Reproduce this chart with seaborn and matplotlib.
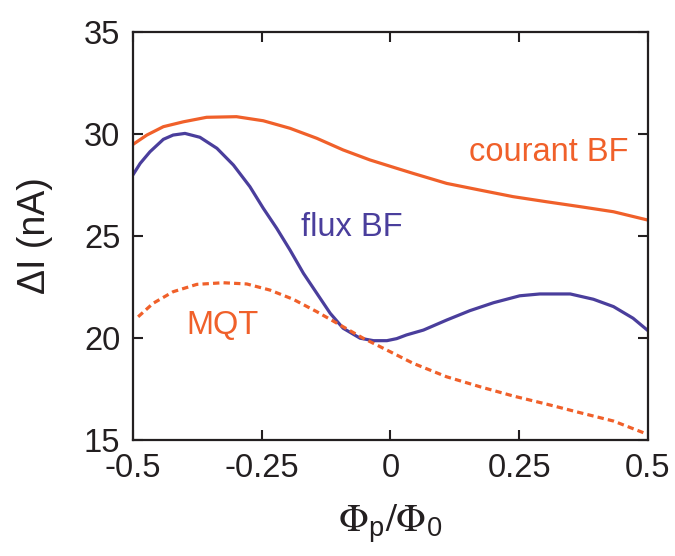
import numpy as np
import pandas as pd
import matplotlib
matplotlib.use('Agg')
import matplotlib.pyplot as plt
import seaborn as sns

# courant BF (orange, trait plein)
x_courant = [-0.5, -0.473, -0.441, -0.402, -0.357, -0.299, -0.247, -0.195, -0.143, -0.092,
             -0.040, 0.012, 0.044, 0.109, 0.174, 0.238, 0.303, 0.368, 0.433, 0.5]
y_courant = [29.49, 29.95, 30.36, 30.60, 30.82, 30.85, 30.65, 30.28, 29.79, 29.22,
             28.73, 28.32, 28.07, 27.58, 27.25, 26.93, 26.68, 26.44, 26.19, 25.78]

# flux BF (bleu)
x_flux = [-0.5, -0.486, -0.467, -0.441, -0.422, -0.399, -0.370, -0.337, -0.305, -0.273,
          -0.247, -0.221, -0.195, -0.169, -0.143, -0.117, -0.092, -0.059, -0.033, -0.007,
          0.012, 0.031, 0.064, 0.109, 0.154, 0.200, 0.251, 0.290, 0.349, 0.394,
          0.433, 0.471, 0.5]
y_flux = [28.00, 28.56, 29.13, 29.74, 29.95, 30.03, 29.84, 29.30, 28.48, 27.42,
          26.36, 25.38, 24.31, 23.17, 22.19, 21.21, 20.48, 19.99, 19.87, 19.87,
          19.97, 20.15, 20.39, 20.88, 21.34, 21.73, 22.07, 22.16, 22.16, 21.90,
          21.54, 20.97, 20.36]

# MQT (orange, pointillé)
x_mqt = [-0.49, -0.461, -0.422, -0.376, -0.325, -0.279, -0.234, -0.189, -0.143, -0.098,
         -0.053, -0.007, 0.044, 0.109, 0.174, 0.238, 0.303, 0.368, 0.433, 0.491]
y_mqt = [21.04, 21.70, 22.27, 22.63, 22.71, 22.65, 22.35, 21.90, 21.29, 20.64,
         19.99, 19.41, 18.76, 18.10, 17.61, 17.16, 16.76, 16.34, 15.93, 15.36]

x_ticks = [-0.5, -0.25, 0, 0.25, 0.5]
x_ticklabels = ['-0.5', '-0.25', '0', '0.25', '0.5']
y_ticks = [15, 20, 25, 30, 35]

orange = '#F0602A'
bleu = '#4A3E9C'
noir = '#231F20'

sns.set_style('ticks')
plt.rcParams['font.family'] = ['Liberation Sans', 'DejaVu Sans']
plt.rcParams['axes.unicode_minus'] = False
plt.rcParams['mathtext.fontset'] = 'stix'

fig = plt.figure(figsize=(6.75, 5.56), dpi=100)
ax = fig.add_axes([0.197, 0.2086, 0.763, 0.7338])

sns.lineplot(x=x_courant, y=y_courant, ax=ax, color=orange, linewidth=2.3)
sns.lineplot(x=x_flux, y=y_flux, ax=ax, color=bleu, linewidth=2.3)
sns.lineplot(x=x_mqt, y=y_mqt, ax=ax, color=orange, linewidth=2.3, linestyle=(0, (2, 1.3)))

ax.set_xlim(-0.5, 0.5)
ax.set_ylim(15, 35)
ax.set_xticks(x_ticks)
ax.set_xticklabels(x_ticklabels)
ax.set_yticks(y_ticks)
ax.tick_params(direction='in', length=7, width=1.5, top=True, right=True,
               labelsize=23.5, colors=noir, pad=9)
for s in ax.spines.values():
    s.set_linewidth(1.6)
    s.set_color(noir)

ax.set_ylabel('ΔI (nA)', fontsize=27, labelpad=22, color=noir)
ax.set_xlabel(r'$\Phi_{\mathregular{p}}/\Phi_{\mathregular{0}}$', fontsize=28, labelpad=14, color=noir)

ax.text(0.307, 29.07, 'courant BF', color=orange, fontsize=23.5, ha='center', va='center')
ax.text(-0.075, 25.4, 'flux BF', color=bleu, fontsize=23.5, ha='center', va='center')
ax.text(-0.326, 20.6, 'MQT', color=orange, fontsize=23.5, ha='center', va='center')

fig.savefig('out.png', dpi=100)
